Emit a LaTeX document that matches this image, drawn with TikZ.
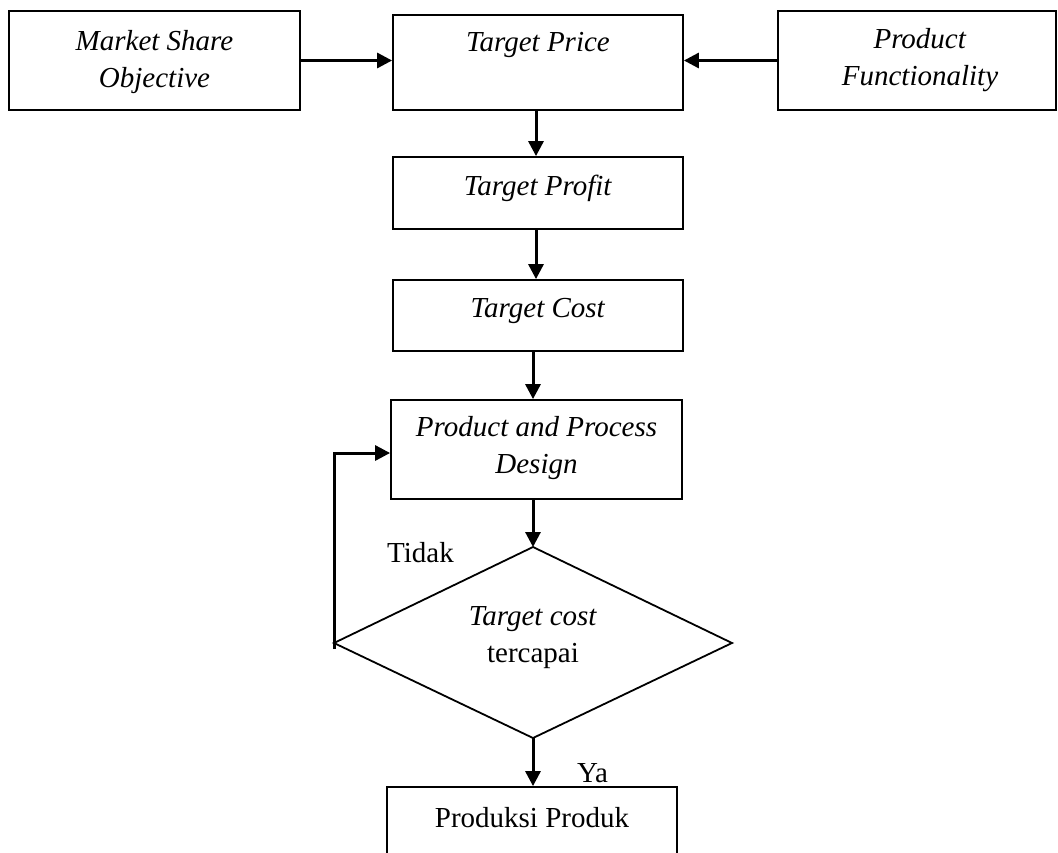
\documentclass[tikz,border=0pt]{standalone}
\usepackage{fontspec}
\setmainfont{Liberation Serif}
\usetikzlibrary{arrows.meta,shapes.geometric}
\begin{document}
\begin{tikzpicture}[x=1pt,y=-1pt,
  box/.style={draw,line width=1.8pt,rectangle,inner sep=0pt},
  txt/.style={font=\fontsize{29}{37}\selectfont,align=center,inner sep=0pt},
  arr/.style={line width=3pt,-{Triangle[length=15pt,width=15pt]}}]
\clip (0,0) rectangle (1058,852);
\useasboundingbox (0,0) rectangle (1058,852);
% boxes
\node[box,minimum width=291pt,minimum height=99pt] (mso) at (154.5,60.5) {};
\node[box,minimum width=290pt,minimum height=95pt] (tp) at (538,62.5) {};
\node[box,minimum width=278pt,minimum height=99pt] (pf) at (917,60.5) {};
\node[box,minimum width=290pt,minimum height=72pt] (tpr) at (538,193) {};
\node[box,minimum width=290pt,minimum height=71pt] (tc) at (538,315.5) {};
\node[box,minimum width=291pt,minimum height=99pt] (ppd) at (536.5,449.5) {};
\node[box,minimum width=290pt,minimum height=100pt] (pp) at (532,837) {};
\draw[line width=1.8pt] (334,643) -- (533,547) -- (732,643) -- (533,738) -- cycle;
\coordinate (dw) at (334,643);
\coordinate (dn) at (533,547);
\coordinate (ds) at (533,738);
% texts
\node[txt] (msot) at (154.5,62) {\textit{Market Share}\\\textit{Objective}};
\node[txt] (tpt) at (538,45) {\textit{Target Price}};
\node[txt] (pft) at (920,60) {\textit{Product}\\\textit{Functionality}};
\node[txt] (tprt) at (538,188) {\textit{Target Profit}};
\node[txt] (tct) at (538,311) {\textit{Target Cost}};
\node[txt] (ppdt) at (536.5,448) {\textit{Product and Process}\\\textit{Design}};
\node[txt] (dt) at (533,638) {\textit{Target cost}\\tercapai};
\node[txt] (ppt) at (532,818) {Produksi Produk};
\node[txt,anchor=base west] (tidak) at (387,562) {Tidak};
\node[txt,anchor=base west] (ya) at (577,782) {Ya};
% arrows
\draw[arr] (mso.east) -- (tp.west |- mso.east);
\draw[arr] (pf.west) -- (tp.east |- pf.west);
\draw[arr] (tp.south -| 536,0) -- (tpr.north -| 536,0);
\draw[arr] (tpr.south -| 536,0) -- (tc.north -| 536,0);
\draw[arr] (tc.south -| 533,0) -- (ppd.north -| 533,0);
\draw[arr] (ppd.south -| dn) -- (dn);
\draw[arr] (ds) -- (pp.north -| ds);
\draw[arr,line cap=butt] ([yshift=-6pt]dw) -- (334,453) -- (ppd.west |- 0,453);
\end{tikzpicture}
\end{document}
